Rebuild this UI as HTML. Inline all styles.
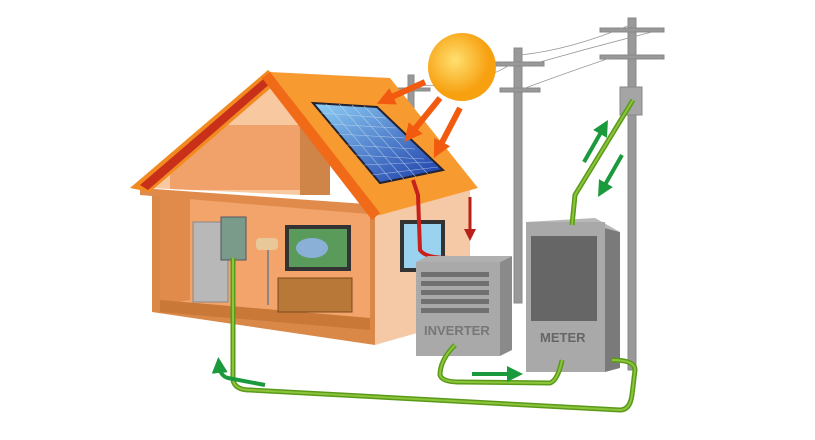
<!DOCTYPE html>
<html><head><style>html,body{margin:0;padding:0;background:#fff;width:815px;height:440px;overflow:hidden}</style></head>
<body>
<svg width="815" height="440" viewBox="0 0 815 440" xmlns="http://www.w3.org/2000/svg" font-family="Liberation Sans, sans-serif">
<defs>
<marker id="ag" markerWidth="4" markerHeight="4" refX="2" refY="2" orient="auto"><path d="M0,0L4,2L0,4z" fill="#1a9a3c"/></marker>
<marker id="ar" markerWidth="4" markerHeight="4" refX="2" refY="2" orient="auto"><path d="M0,0L4,2L0,4z" fill="#b8201a"/></marker>
<marker id="ao" markerWidth="3" markerHeight="3" refX="1.5" refY="1.5" orient="auto"><path d="M0,0L3,1.5L0,3z" fill="#f25a10"/></marker>
<radialGradient id="sun" cx="0.4" cy="0.4"><stop offset="0" stop-color="#ffe070"/><stop offset="1" stop-color="#f7a010"/></radialGradient>
<linearGradient id="pan" x1="0" y1="0" x2="1" y2="1"><stop offset="0" stop-color="#8fd0f5"/><stop offset="1" stop-color="#1a3aa8"/></linearGradient>
<clipPath id="gab"><polygon points="150,188 268,80 300,105 300,195"/></clipPath>
</defs>
<!-- poles -->
<g stroke="#888" fill="#999">
<rect x="514" y="48" width="8" height="255"/>
<rect x="628" y="18" width="8" height="352"/>
<rect x="408" y="75" width="6" height="40"/>
<rect x="496" y="62" width="48" height="4"/><rect x="500" y="88" width="40" height="4"/>
<rect x="600" y="28" width="64" height="4"/><rect x="600" y="55" width="64" height="4"/>
<rect x="390" y="88" width="40" height="3"/>
<rect x="620" y="87" width="22" height="28" fill="#a5a5a5"/>
</g>
<g stroke="#999" fill="none" stroke-width="0.8"><path d="M520,55 Q570,50 630,25"/><path d="M540,62 Q600,45 660,30"/><path d="M420,85 Q470,90 515,62"/><path d="M610,58 Q560,75 520,90"/></g>
<!-- house right side wall -->
<polygon points="375,205 470,188 470,318 375,345" fill="#f6c9a6"/>
<rect x="400" y="220" width="45" height="52" fill="#333"/><rect x="404" y="224" width="37" height="44" fill="#9bd2f0"/>
<!-- front cutaway -->
<polygon points="152,190 375,205 375,345 152,312" fill="#d98848"/>
<polygon points="160,195 370,210 370,330 160,305" fill="#f3a46a"/>
<polygon points="160,195 190,197 190,300 160,305" fill="#e08a4c"/>
<polygon points="160,300 370,318 370,330 160,312" fill="#c97838"/>
<!-- attic -->
<g clip-path="url(#gab)">
<rect x="140" y="70" width="170" height="130" fill="#f8c9a0"/>
<rect x="170" y="125" width="130" height="65" fill="#f1a26a"/>
</g>
<rect x="300" y="115" width="30" height="80" fill="#cf8548"/>
<polygon points="140,188 380,205 380,215 140,195" fill="#e08a4c"/>
<!-- interior -->
<rect x="193" y="222" width="35" height="80" fill="#b8b8b8" stroke="#888"/>
<rect x="221" y="217" width="25" height="43" fill="#7a9a8a" stroke="#556"/>
<rect x="285" y="225" width="66" height="46" fill="#333"/><rect x="289" y="229" width="58" height="38" fill="#5a9a5a"/><ellipse cx="312" cy="248" rx="16" ry="10" fill="#8ab0d8"/>
<rect x="278" y="278" width="74" height="34" fill="#b87838" stroke="#7a4a1a"/>
<line x1="268" y1="250" x2="268" y2="305" stroke="#888" stroke-width="2"/><rect x="256" y="238" width="22" height="12" rx="4" fill="#e8c898"/>
<!-- roof -->
<polygon points="130,188 268,70 280,80 150,192" fill="#f28a20"/>
<polygon points="140,185 268,75 272,82 148,190" fill="#c8301a"/>
<polygon points="270,72 390,78 478,188 380,215" fill="#f79a30"/>
<polygon points="270,72 380,213 372,220 262,78" fill="#f06a18"/>
<polygon points="313,103 377,107 443,170 380,183" fill="url(#pan)" stroke="#223" stroke-width="2"/>
<g stroke="#cde" stroke-width="0.6" opacity="0.7">
<line x1="321" y1="113" x2="386" y2="118"/><line x1="330" y1="124" x2="396" y2="128"/><line x1="338" y1="134" x2="405" y2="138"/><line x1="347" y1="145" x2="415" y2="149"/><line x1="355" y1="155" x2="424" y2="159"/><line x1="364" y1="165" x2="433" y2="162"/><line x1="372" y1="175" x2="438" y2="167"/>
<line x1="326" y1="104" x2="392" y2="181"/><line x1="339" y1="104" x2="404" y2="179"/><line x1="352" y1="105" x2="416" y2="177"/><line x1="364" y1="106" x2="428" y2="174"/>
</g>
<!-- sun & rays -->
<circle cx="462" cy="67" r="34" fill="url(#sun)"/>
<g stroke="#f25a10" stroke-width="6" marker-end="url(#ao)"><line x1="425" y1="82" x2="385" y2="100"/><line x1="440" y1="98" x2="410" y2="135"/><line x1="460" y1="108" x2="438" y2="150"/></g>
<!-- red cable -->
<path d="M413,180 L418,195 L420,250 Q425,258 450,258 Q460,260 460,266" stroke="#c8201a" stroke-width="4" fill="none"/>
<line x1="470" y1="197" x2="470" y2="235" stroke="#b8201a" stroke-width="3" marker-end="url(#ar)"/>
<!-- inverter -->
<polygon points="416,262 500,262 512,256 512,350 500,356 416,356" fill="#8a8a8a"/>
<polygon points="416,262 500,262 512,256 428,256" fill="#b0b0b0"/>
<rect x="416" y="262" width="84" height="94" fill="#a9a9a9"/>
<g fill="#707070"><rect x="421" y="272" width="68" height="5"/><rect x="421" y="281" width="68" height="5"/><rect x="421" y="290" width="68" height="5"/><rect x="421" y="299" width="68" height="5"/><rect x="421" y="308" width="68" height="5"/></g>
<text x="424" y="335" font-size="13" font-weight="bold" fill="#777">INVERTER</text>
<!-- meter -->
<polygon points="605,228 620,232 620,368 605,372" fill="#7a7a7a"/>
<polygon points="526,222 595,218 620,232 605,228" fill="#b8b8b8"/>
<rect x="526" y="222" width="79" height="150" fill="#a9a9a9"/>
<rect x="531" y="236" width="66" height="85" fill="#666"/>
<text x="540" y="342" font-size="13" font-weight="bold" fill="#666">METER</text>
<!-- green cables -->
<g stroke="#5a9a1a" stroke-width="5" fill="none">
<path d="M233,258 L233,380 Q235,390 250,390 L620,410 Q630,410 632,395 L635,370 Q635,360 612,360"/>
<path d="M455,345 Q440,360 440,375 Q442,382 460,382 L550,383 Q558,380 562,360"/>
<path d="M572,225 L575,195 L633,100"/>
</g>
<g stroke="#8cc43a" stroke-width="2" fill="none">
<path d="M233,258 L233,380 Q235,390 250,390 L620,410 Q630,410 632,395 L635,370 Q635,360 612,360"/>
<path d="M455,345 Q440,360 440,375 Q442,382 460,382 L550,383 Q558,380 562,360"/>
<path d="M572,225 L575,195 L633,100"/>
</g>
<!-- green arrows -->
<g stroke="#1a9a3c" stroke-width="4" fill="none" marker-end="url(#ag)">
<path d="M265,385 L228,378 Q220,376 219,365"/>
<line x1="472" y1="374" x2="515" y2="374"/>
<line x1="584" y1="162" x2="604" y2="127"/>
<line x1="622" y1="155" x2="602" y2="190"/>
</g>
</svg>
</body></html>
